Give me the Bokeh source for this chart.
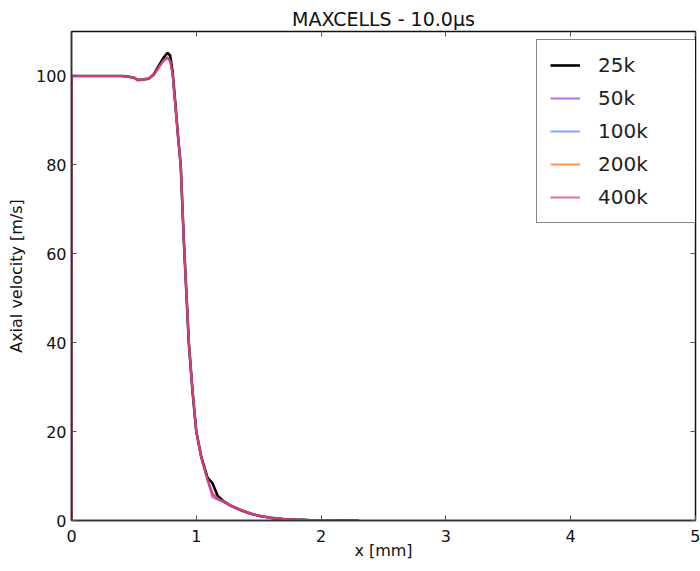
from bokeh.plotting import figure
from bokeh.models import LinearAxis, Legend, LegendItem, FixedTicker, Range1d
from bokeh.embed import file_html
from bokeh.resources import INLINE

# ---- data ----
x_mm = [0.0, 0.0, 0.1, 0.2, 0.3, 0.4, 0.45, 0.5, 0.53, 0.57, 0.62, 0.66, 0.7, 0.74,
        0.77, 0.79, 0.81, 0.83, 0.855, 0.875, 0.9, 0.94, 0.97, 1.0, 1.04, 1.09, 1.13,
        1.17, 1.22, 1.28, 1.36, 1.44, 1.52, 1.6, 1.7, 1.8, 1.9, 2.0, 2.1, 2.2, 2.3]

v_25k = [0, 100, 100, 100, 100, 100, 99.9, 99.6, 99.1, 99.2, 99.4, 100.4, 102.3, 104.2,
         105.2, 104.6, 101.0, 94.5, 86.0, 80.0, 63.0, 40.0, 29.0, 20.0, 14.3, 9.6, 8.4,
         5.6, 4.3, 3.3, 2.3, 1.5, 0.95, 0.6, 0.35, 0.2, 0.12, 0.07, 0.04, 0.02, 0.01]
v_50k = [0, 100, 100, 100, 100, 100, 99.9, 99.6, 99.0, 99.1, 99.4, 100.2, 101.9, 103.4,
         104.0, 103.3, 100.3, 93.8, 85.8, 80.0, 63.0, 40.0, 29.0, 20.0, 14.0, 9.0, 5.2,
         4.7, 4.1, 3.2, 2.2, 1.4, 0.9, 0.55, 0.33, 0.19, 0.11, 0.06, 0.03, 0.02, 0.01]
v_100k = [0, 100, 100, 100, 100, 100, 99.9, 99.6, 99.1, 99.2, 99.4, 100.3, 102.0, 103.6,
          104.2, 103.4, 100.5, 94.0, 86.0, 80.0, 63.0, 40.0, 29.0, 20.0, 14.0, 9.2, 5.9,
          4.9, 4.2, 3.3, 2.3, 1.5, 0.95, 0.6, 0.35, 0.2, 0.12, 0.07, 0.04, 0.02, 0.01]
v_200k = [0, 100, 100, 100, 100, 100, 99.9, 99.6, 99.1, 99.2, 99.4, 100.3, 102.0, 103.6,
          104.2, 103.4, 100.6, 94.2, 86.2, 80.3, 63.5, 40.5, 29.3, 20.3, 14.2, 9.3, 6.1,
          5.0, 4.3, 3.4, 2.4, 1.6, 1.0, 0.62, 0.36, 0.21, 0.12, 0.07, 0.04, 0.02, 0.01]
v_400k = [0, 100, 100, 100, 100, 100, 99.9, 99.6, 99.1, 99.2, 99.4, 100.3, 102.0, 103.6,
          104.2, 103.4, 100.5, 94.0, 86.0, 80.0, 63.0, 40.0, 29.0, 20.0, 14.0, 9.2, 6.0,
          5.0, 4.2, 3.3, 2.3, 1.5, 0.95, 0.6, 0.35, 0.2, 0.12, 0.07, 0.04, 0.02, 0.01]

series_labels = ["25k", "50k", "100k", "200k", "400k"]
series_values = [v_25k, v_50k, v_100k, v_200k, v_400k]
series_colors = ["#000000", "#9933cc", "#3366ff", "#ff6600", "#dd2f8f"]
series_widths = [2.6, 2.0, 2.0, 2.0, 2.0]
series_alpha = [1.0, 0.7, 0.6, 0.7, 0.72]

x_ticks = [0, 1, 2, 3, 4, 5]
y_ticks = [0, 20, 40, 60, 80, 100]

FONT = "DejaVu Sans"

p = figure(width=700, height=571, output_backend="svg", toolbar_location=None,
           x_range=Range1d(0, 5), y_range=Range1d(0, 110),
           min_border_left=71, min_border_right=5, min_border_top=31, min_border_bottom=51,
           title="MAXCELLS - 10.0\u03bcs")
p.title.align = "center"
p.title.text_font = FONT
p.title.text_font_size = "19px"
p.title.text_font_style = "normal"
p.title.text_color = "#111111"
p.title.standoff = 3

p.grid.visible = False
p.outline_line_color = "#111111"
p.outline_line_width = 1.5

for ax in (p.xaxis[0], p.yaxis[0]):
    ax.major_tick_in = 5
    ax.major_tick_out = 0
    ax.minor_tick_line_color = None
    ax.major_label_text_font = FONT
    ax.major_label_text_font_size = "16px"
    ax.major_label_text_color = "#111111"
    ax.axis_label_text_font = FONT
    ax.axis_label_text_font_size = "16px"
    ax.axis_label_text_font_style = "normal"
    ax.axis_label_text_color = "#111111"
    ax.axis_line_color = "#333333"
    ax.axis_line_width = 1.5
    ax.major_tick_line_color = "#555555"

p.xaxis[0].ticker = FixedTicker(ticks=x_ticks)
p.yaxis[0].ticker = FixedTicker(ticks=y_ticks)
p.xaxis[0].axis_label = "x [mm]"
p.yaxis[0].axis_label = "Axial velocity [m/s]"
p.xaxis[0].major_label_standoff = 9
p.xaxis[0].axis_label_standoff = -4
p.yaxis[0].major_label_standoff = 5
p.yaxis[0].axis_label_standoff = 7

top_ax = LinearAxis(ticker=FixedTicker(ticks=x_ticks), major_label_text_color=None,
                    major_label_text_font_size="1px",
                    major_tick_in=5, major_tick_out=0, minor_tick_line_color=None,
                    axis_line_color=None, major_label_standoff=0,
                    major_tick_line_color="#555555")
right_ax = LinearAxis(ticker=FixedTicker(ticks=y_ticks), major_label_text_color=None,
                      major_label_text_font_size="1px",
                      major_tick_in=5, major_tick_out=0, minor_tick_line_color=None,
                      axis_line_color=None, major_label_standoff=0,
                      major_tick_line_color="#555555")
p.add_layout(top_ax, "above")
p.add_layout(right_ax, "right")

items = []
for lab, vals, col, w, a in zip(series_labels, series_values, series_colors, series_widths, series_alpha):
    r = p.line(x_mm, vals, line_color=col, line_width=w, line_alpha=a)
    items.append(LegendItem(label=lab, renderers=[r]))

legend = Legend(items=items, location=(465, 297), margin=0,
                label_text_font=FONT, label_text_font_size="20px", label_text_color="#222222",
                label_height=24, glyph_height=24, glyph_width=30, spacing=9, padding=13,
                label_standoff=18, label_width=85,
                border_line_color="#111111", border_line_width=1.5,
                background_fill_color="white", background_fill_alpha=1.0)
p.add_layout(legend, "center")

open("out.html", "w").write(file_html(p, INLINE))
